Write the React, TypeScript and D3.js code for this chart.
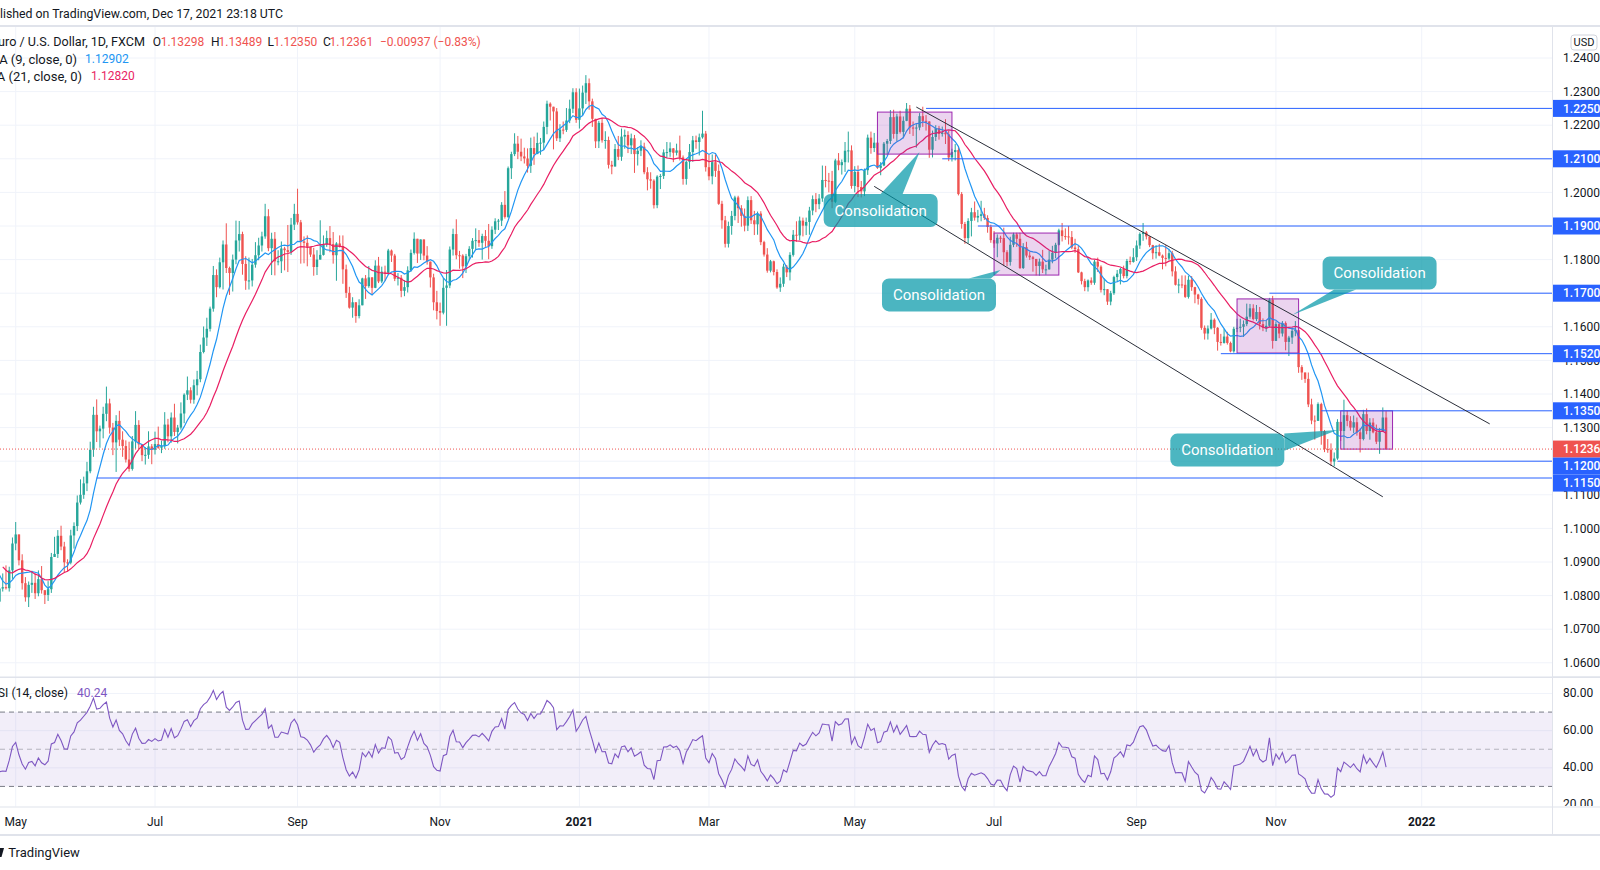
import * as d3 from "d3";

// EUR/USD daily bars (FXCM), price x 10000, one line per month; open = previous close
const firstDay = "2020-03-30";
const lastDay = "2022-02-28";
const noBarDays = ["12-25", "01-01"];

const closes = [
  11033, 11030,
  10963, 10857, 10806, 10794, 10890, 10855, 10936, 10940, 10914, 10985, 10905, 10842, 10876, 10862, 10856, 10822, 10782, 10821, 10825, 10822, 10875, 10955,
  10982, 10905, 10837, 10795, 10832, 10838, 10807, 10849, 10816, 10802, 10819, 10915, 10924, 10978, 10946, 10899, 10898, 10979, 11007, 11077, 11100,
  11134, 11170, 11234, 11338, 11289, 11297, 11341, 11372, 11300, 11256, 11320, 11264, 11245, 11205, 11177, 11259, 11308, 11250, 11218, 11219, 11244, 11234,
  11251, 11240, 11245, 11309, 11274, 11330, 11287, 11300, 11342, 11398, 11411, 11383, 11426, 11444, 11525, 11568, 11594, 11654, 11754, 11718, 11792, 11845, 11775,
  11760, 11800, 11857, 11876, 11787, 11737, 11738, 11785, 11813, 11842, 11869, 11929, 11834, 11862, 11795, 11795, 11833, 11828, 11823, 11904, 11936,
  11911, 11854, 11850, 11838, 11815, 11778, 11800, 11814, 11845, 11864, 11846, 11813, 11848, 11840, 11771, 11701, 11657, 11673, 11632, 11664, 11744, 11721,
  11747, 11716, 11782, 11735, 11764, 11761, 11827, 11812, 11743, 11746, 11707, 11718, 11768, 11820, 11862, 11818, 11860, 11812, 11794, 11747, 11673, 11647,
  11642, 11716, 11723, 11830, 11876, 11813, 11812, 11780, 11810, 11832, 11856, 11858, 11850, 11870, 11856, 11840, 11889, 11914, 11916, 11963, 11927,
  12072, 12114, 12145, 12121, 12107, 12101, 12079, 12132, 12114, 12147, 12148, 12195, 12264, 12255, 12241, 12161, 12187, 12186, 12214, 12249, 12298, 12216,
  12250, 12297, 12325, 12271, 12219, 12152, 12207, 12155, 12156, 12082, 12077, 12129, 12106, 12166, 12171, 12140, 12161, 12114, 12124, 12136,
  12060, 12039, 12035, 11962, 12047, 12049, 12119, 12120, 12131, 12118, 12125, 12104, 12040, 12091, 12120, 12155, 12150, 12164, 12175, 12075,
  12048, 12090, 12064, 11966, 11917, 11847, 11900, 11930, 11985, 11953, 11930, 11901, 11977, 11917, 11905, 11937, 11852, 11815, 11767, 11795, 11763, 11717, 11728,
  11779, 11762, 11814, 11874, 11872, 11916, 11901, 11912, 11946, 11980, 11965, 11982, 12037, 12035, 12034, 11972, 12095, 12081, 12090, 12124, 12125, 12019,
  12061, 12016, 12003, 12066, 12163, 12132, 12148, 12073, 12080, 12145, 12153, 12224, 12174, 12226, 12180, 12213, 12249, 12193, 12192, 12193, 12227,
  12213, 12211, 12127, 12165, 12191, 12174, 12178, 12173, 12104, 12120, 12126, 11995, 11906, 11864, 11915, 11941, 11925, 11930, 11935, 11924, 11897, 11858,
  11848, 11865, 11864, 11822, 11793, 11844, 11875, 11862, 11775, 11837, 11812, 11807, 11802, 11781, 11794, 11771, 11771, 11800, 11820, 11844, 11887, 11870,
  11869, 11867, 11836, 11831, 11762, 11736, 11718, 11738, 11731, 11794, 11779, 11710, 11712, 11675, 11700, 11748, 11758, 11772, 11751, 11796, 11793, 11807,
  11842, 11876, 11881, 11869, 11843, 11819, 11822, 11812, 11805, 11803, 11819, 11765, 11725, 11726, 11725, 11689, 11740, 11718, 11696, 11683, 11597, 11580,
  11595, 11621, 11597, 11555, 11552, 11571, 11552, 11527, 11594, 11597, 11600, 11608, 11630, 11655, 11623, 11644, 11608, 11597, 11603, 11681, 11558,
  11608, 11580, 11611, 11555, 11568, 11588, 11590, 11480, 11464, 11445, 11369, 11321, 11320, 11370, 11289, 11236, 11234, 11199, 11208, 11317, 11290, 11337,
  11320, 11300, 11316, 11286, 11266, 11340, 11290, 11315, 11286, 11258, 11289, 11330, 11236,
];

const highs = [
  11145, 11073,
  11045, 10968, 10867, 10834, 10926, 10892, 10951, 10950, 10955, 10990, 10986, 10917, 10890, 10886, 10879, 10878, 10888, 10838, 10866, 10890, 10886, 10973,
  11019, 10975, 10923, 10855, 10842, 10874, 10866, 10875, 10888, 10812, 10843, 10927, 10975, 10995, 11008, 10960, 10908, 10996, 11018, 11098, 11146,
  11154, 11198, 11258, 11362, 11384, 11306, 11362, 11422, 11386, 11314, 11337, 11350, 11289, 11262, 11258, 11275, 11349, 11322, 11250, 11242, 11289, 11251,
  11288, 11303, 11261, 11346, 11326, 11345, 11371, 11308, 11375, 11402, 11452, 11420, 11443, 11469, 11547, 11601, 11627, 11660, 11781, 11771, 11806, 11857, 11908,
  11779, 11815, 11916, 11915, 11883, 11810, 11806, 11802, 11852, 11865, 11883, 11966, 11950, 11880, 11882, 11828, 11854, 11838, 11903, 11924, 11966,
  12011, 11918, 11869, 11872, 11838, 11835, 11828, 11917, 11872, 11886, 11900, 11882, 11852, 11872, 11872, 11785, 11719, 11688, 11671, 11682, 11746, 11754,
  11781, 11748, 11798, 11808, 11779, 11782, 11832, 11830, 11817, 11760, 11754, 11739, 11780, 11830, 11881, 11854, 11860, 11860, 11840, 11790, 11758, 11707,
  11672, 11745, 11769, 11839, 11892, 11920, 11826, 11816, 11817, 11840, 11864, 11893, 11888, 11877, 11888, 11906, 11899, 11923, 11921, 11971, 12004,
  12077, 12121, 12176, 12168, 12160, 12133, 12131, 12163, 12166, 12178, 12162, 12211, 12273, 12268, 12252, 12251, 12203, 12211, 12251, 12276, 12310, 12310,
  12309, 12318, 12349, 12339, 12279, 12219, 12213, 12222, 12182, 12166, 12094, 12144, 12168, 12190, 12187, 12182, 12175, 12171, 12135, 12155,
  12148, 12075, 12060, 12039, 12051, 12055, 12128, 12150, 12149, 12132, 12145, 12169, 12110, 12095, 12144, 12168, 12169, 12175, 12243, 12183,
  12112, 12113, 12113, 12083, 11975, 11930, 11913, 11945, 11990, 11990, 11962, 11952, 11988, 11989, 11945, 11943, 11944, 11856, 11834, 11799, 11797, 11771, 11747,
  11788, 11784, 11822, 11888, 11914, 11928, 11925, 11925, 11957, 11991, 11998, 11995, 12080, 12079, 12058, 12064, 12100, 12117, 12098, 12150, 12181, 12140,
  12078, 12080, 12034, 12071, 12172, 12181, 12177, 12150, 12090, 12150, 12159, 12245, 12246, 12234, 12243, 12226, 12266, 12260, 12211, 12203, 12236,
  12255, 12230, 12212, 12184, 12200, 12198, 12196, 12218, 12183, 12130, 12144, 12135, 12001, 11912, 11923, 11954, 11973, 11948, 11975, 11954, 11932, 11904,
  11885, 11875, 11871, 11895, 11828, 11868, 11880, 11880, 11880, 11849, 11853, 11823, 11811, 11802, 11803, 11829, 11785, 11827, 11841, 11850, 11892, 11909,
  11893, 11900, 11885, 11862, 11842, 11764, 11743, 11741, 11747, 11799, 11806, 11783, 11744, 11710, 11707, 11752, 11769, 11775, 11782, 11802, 11809, 11834,
  11857, 11881, 11909, 11885, 11869, 11844, 11843, 11847, 11815, 11843, 11830, 11826, 11780, 11743, 11753, 11753, 11752, 11751, 11719, 11698, 11688, 11604,
  11604, 11641, 11625, 11599, 11579, 11594, 11585, 11556, 11600, 11624, 11624, 11619, 11669, 11668, 11667, 11665, 11659, 11625, 11618, 11686, 11692,
  11616, 11613, 11617, 11616, 11573, 11598, 11617, 11599, 11486, 11464, 11464, 11386, 11336, 11375, 11374, 11293, 11266, 11253, 11226, 11325, 11306, 11383,
  11350, 11334, 11336, 11330, 11298, 11353, 11357, 11328, 11328, 11309, 11299, 11360, 11349,
];

const lows = [
  11007, 10925,
  10906, 10835, 10774, 10768, 10790, 10830, 10832, 10912, 10885, 10910, 10879, 10813, 10812, 10838, 10817, 10815, 10756, 10765, 10812, 10818, 10812, 10850,
  10935, 10890, 10818, 10782, 10766, 10808, 10790, 10798, 10806, 10775, 10784, 10808, 10915, 10912, 10935, 10870, 10872, 10893, 10940, 10992, 11071,
  11088, 11111, 11164, 11213, 11257, 11240, 11268, 11319, 11282, 11218, 11168, 11245, 11213, 11196, 11169, 11172, 11237, 11236, 11200, 11190, 11207, 11191,
  11220, 11237, 11224, 11237, 11256, 11255, 11275, 11253, 11294, 11313, 11382, 11372, 11371, 11396, 11435, 11521, 11543, 11586, 11645, 11688, 11714, 11711, 11760,
  11695, 11705, 11786, 11824, 11755, 11710, 11711, 11720, 11776, 11798, 11824, 11862, 11825, 11754, 11753, 11783, 11760, 11768, 11763, 11814, 11888,
  11904, 11788, 11789, 11780, 11808, 11752, 11754, 11803, 11812, 11838, 11822, 11788, 11737, 11836, 11728, 11686, 11654, 11627, 11612, 11625, 11666, 11683,
  11716, 11696, 11715, 11730, 11730, 11736, 11755, 11793, 11736, 11723, 11688, 11691, 11702, 11764, 11815, 11790, 11799, 11798, 11785, 11717, 11649, 11622,
  11603, 11637, 11603, 11715, 11812, 11801, 11773, 11745, 11760, 11798, 11806, 11831, 11838, 11800, 11838, 11801, 11832, 11876, 11888, 11900, 11922,
  11924, 12040, 12108, 12099, 12093, 12086, 12059, 12058, 12082, 12116, 12112, 12126, 12173, 12214, 12128, 12153, 12150, 12173, 12180, 12206, 12236, 12207,
  12190, 12230, 12263, 12246, 12195, 12132, 12132, 12148, 12130, 12071, 12054, 12080, 12096, 12094, 12130, 12117, 12114, 12058, 12080, 12108,
  12054, 12006, 12011, 11952, 11953, 12010, 12040, 12102, 12106, 12090, 12110, 12095, 12023, 12023, 12070, 12091, 12130, 12110, 12160, 12062,
  12036, 12024, 12046, 11963, 11892, 11836, 11836, 11874, 11917, 11909, 11898, 11884, 11885, 11906, 11873, 11874, 11843, 11809, 11761, 11762, 11753, 11713, 11704,
  11719, 11748, 11738, 11809, 11853, 11858, 11869, 11873, 11874, 11932, 11941, 11950, 11972, 12015, 12000, 11953, 11968, 12066, 12053, 12061, 12089, 12011,
  12000, 11986, 11985, 11989, 12052, 12115, 12120, 12070, 12051, 12078, 12110, 12144, 12160, 12152, 12175, 12161, 12212, 12174, 12168, 12133, 12185,
  12195, 12184, 12103, 12104, 12153, 12157, 12166, 12144, 12093, 12092, 12095, 11991, 11892, 11847, 11849, 11869, 11916, 11911, 11914, 11918, 11880, 11850,
  11835, 11807, 11850, 11782, 11780, 11782, 11837, 11838, 11772, 11772, 11806, 11799, 11764, 11753, 11752, 11760, 11755, 11770, 11789, 11804, 11842, 11854,
  11859, 11845, 11831, 11820, 11760, 11726, 11706, 11705, 11725, 11725, 11763, 11702, 11694, 11665, 11664, 11695, 11733, 11726, 11744, 11744, 11785, 11791,
  11796, 11832, 11856, 11860, 11837, 11801, 11803, 11810, 11771, 11780, 11798, 11750, 11723, 11700, 11715, 11686, 11684, 11707, 11670, 11666, 11591, 11562,
  11562, 11592, 11578, 11529, 11544, 11550, 11547, 11524, 11523, 11584, 11584, 11570, 11602, 11624, 11619, 11617, 11592, 11587, 11585, 11600, 11535,
  11561, 11566, 11571, 11530, 11513, 11549, 11572, 11463, 11442, 11433, 11361, 11310, 11264, 11320, 11249, 11227, 11225, 11186, 11185, 11204, 11260, 11235,
  11304, 11291, 11284, 11276, 11226, 11262, 11280, 11264, 11283, 11251, 11222, 11292, 11235,
];

const tickDates = [
  "2020-05-01", "2020-07-01", "2020-09-01", "2020-11-02", "2021-01-04", "2021-03-01",
  "2021-05-03", "2021-07-01", "2021-09-01", "2021-11-01", "2022-01-03",
];
const tickLabels = ["May", "Jul", "Sep", "Nov", "2021", "Mar", "May", "Jul", "Sep", "Nov", "2022"];
const yearLabels = ["2021", "2022"];

const priceTicks = [1.24, 1.23, 1.22, 1.21, 1.2, 1.19, 1.18, 1.17, 1.16, 1.15, 1.14, 1.13, 1.12, 1.11, 1.1, 1.09, 1.08, 1.07, 1.06];
const rsiTicks = [80, 60, 40, 20];
const rsiGrid = [80, 60, 40];

const lastPrice = 1.12361;
const levels = [
  { price: 1.225, from: "2021-06-02" },
  { price: 1.21, from: "2021-06-09" },
  { price: 1.19, from: "2021-06-24" },
  { price: 1.17, from: "2021-10-28" },
  { price: 1.152, from: "2021-10-07" },
  { price: 1.135, from: "2021-11-19" },
  { price: 1.12, from: "2021-11-26" },
  { price: 1.115, from: "2020-06-05" },
];

const zones = [
  { from: "2021-05-12", to: "2021-06-14", top: 1.2239, bottom: 1.2114 },
  { from: "2021-07-01", to: "2021-07-29", top: 1.1879, bottom: 1.1754 },
  { from: "2021-10-14", to: "2021-11-10", top: 1.1683, bottom: 1.1522 },
  { from: "2021-11-29", to: "2021-12-21", top: 1.135, bottom: 1.1236 },
];

const trendLines = [
  { from: "2021-05-28", p1: 1.2254, to: "2022-02-01", p2: 1.1311 },
  { from: "2021-05-11", p1: 1.2018, to: "2021-12-16", p2: 1.1094 },
];

const callouts = [
  { text: "Consolidation", at: "2021-05-13", price: 1.1946, tipAt: "2021-05-31", tipPrice: 1.212 },
  { text: "Consolidation", at: "2021-06-08", price: 1.1695, tipAt: "2021-07-05", tipPrice: 1.1769 },
  { text: "Consolidation", at: "2021-12-15", price: 1.176, tipAt: "2021-11-08", tipPrice: 1.1635 },
  { text: "Consolidation", at: "2021-10-11", price: 1.1233, tipAt: "2021-11-26", tipPrice: 1.1293 },
];

const headerText = "Published on TradingView.com, Dec 17, 2021 23:18 UTC";
const symbolTitle = "Euro / U.S. Dollar, 1D, FXCM";
const ohlcNames = ["O", "H", "L", "C"];
const ohlcValues = ["1.13298", "1.13489", "1.12350", "1.12361"];
const changeText = "\u22120.00937 (\u22120.83%)";
const maTitles = ["MA (9, close, 0)", "MA (21, close, 0)"];
const maValues = ["1.12902", "1.12820"];
const rsiTitle = "RSI (14, close)";
const rsiValue = "40.24";

const UP = "#26a69a";
const DOWN = "#ef5350";
const MA9 = "#2196f3";
const MA21 = "#e91e63";
const LEVEL = "#2962ff";
const RSI = "#7e57c2";
const GRID = "#f0f3fa";
const BORDER = "#e0e3eb";
const TEXT = "#131722";
const FONT = "Roboto, 'Noto Sans', sans-serif";

function sma(v: number[], n: number) {
  return v.map((_, i) => (i < n - 1 ? null : d3.mean(v.slice(i - n + 1, i + 1))!));
}

function rsiWilder(v: number[], n: number) {
  const out: (number | null)[] = v.map(() => null);
  let ag = 0;
  let al = 0;
  for (let i = 1; i < v.length; i++) {
    const ch = v[i] - v[i - 1];
    const g = Math.max(ch, 0);
    const l = Math.max(-ch, 0);
    if (i <= n) {
      ag += g / n;
      al += l / n;
      if (i < n) continue;
    } else {
      ag = (ag * (n - 1) + g) / n;
      al = (al * (n - 1) + l) / n;
    }
    out[i] = al === 0 ? 100 : 100 - 100 / (1 + ag / al);
  }
  return out;
}

function calloutShape(cx: number, cy: number, tx: number, ty: number) {
  const w = 114, h = 33, r = 7;
  const x0 = cx - w / 2, y0 = cy - h / 2;
  const box = `M${x0 + r},${y0}H${x0 + w - r}A${r},${r} 0 0 1 ${x0 + w},${y0 + r}V${y0 + h - r}A${r},${r} 0 0 1 ${x0 + w - r},${y0 + h}H${x0 + r}A${r},${r} 0 0 1 ${x0},${y0 + h - r}V${y0 + r}A${r},${r} 0 0 1 ${x0 + r},${y0}Z`;
  const dx = tx - cx, dy = ty - cy;
  const tH = dx !== 0 ? w / 2 / Math.abs(dx) : Infinity;
  const tV = dy !== 0 ? h / 2 / Math.abs(dy) : Infinity;
  const half = 11;
  let b1: number[], b2: number[];
  if (tH < tV) {
    const ex = cx + dx * tH, ey = cy + dy * tH;
    b1 = [ex, Math.max(y0, ey - half)];
    b2 = [ex, Math.min(y0 + h, ey + half)];
  } else {
    const ex = cx + dx * tV, ey = cy + dy * tV;
    b1 = [Math.max(x0, ex - half), ey];
    b2 = [Math.min(x0 + w, ex + half), ey];
  }
  const tail = `M${b1[0]},${b1[1]}L${tx},${ty}L${b2[0]},${b2[1]}Z`;
  return { box, tail };
}

export default function App() {
  const W = 1600, H = 870;
  const axisX = 1552;
  const mainTop = 27, mainBottom = 676.5;
  const rsiTop = 677.5, rsiBottom = 806.5;
  const timeBottom = 834;

  // trading days: weekdays without Christmas and New Year
  const days: string[] = [];
  for (let t = Date.parse(firstDay); t <= Date.parse(lastDay); t += 864e5) {
    const d = new Date(t);
    const wd = d.getUTCDay();
    const iso = d.toISOString().slice(0, 10);
    if (wd === 0 || wd === 6 || noBarDays.includes(iso.slice(5))) continue;
    days.push(iso);
  }
  const index = new Map(days.map((d, i) => [d, i]));
  const at = (s: string) => index.get(s)!;

  const x = d3.scaleLinear().domain([at("2020-05-01"), at("2022-01-03")]).range([15.7, 1421.7]);
  const y = d3.scaleLinear().domain([1.06, 1.24]).range([662.8, 58]);
  const yr = d3.scaleLinear().domain([20, 80]).range([805, 693.5]);

  const bars = closes.map((c, i) => {
    const o = i > 0 ? closes[i - 1] : c;
    return {
      i,
      o: o / 1e4,
      c: c / 1e4,
      h: Math.max(highs[i], o, c) / 1e4,
      l: Math.min(lows[i], o, c) / 1e4,
    };
  });
  const cl = bars.map((b) => b.c);
  const ma9 = sma(cl, 9);
  const ma21 = sma(cl, 21);
  const rsi = rsiWilder(cl, 14);

  const priceLine = d3
    .line<number | null>()
    .defined((v) => v != null)
    .x((_, i) => x(i))
    .y((v) => y(v as number));
  const rsiLine = d3
    .line<number | null>()
    .defined((v) => v != null)
    .x((_, i) => x(i))
    .y((v) => yr(v as number));

  // axis label boxes, pushed apart like the price scale does
  const boxes = [
    ...levels.map((l) => ({ price: l.price, color: LEVEL })),
    { price: lastPrice, color: DOWN },
  ]
    .map((b) => ({ ...b, cy: y(b.price) }))
    .sort((a, b) => a.cy - b.cy);
  const boxH = 17;
  let prevBottom = -Infinity;
  const placed = boxes.map((b) => {
    const top = Math.max(b.cy - boxH / 2, prevBottom);
    prevBottom = top + boxH;
    return { ...b, top };
  });
  // regular tick labels fully hidden behind a box are not drawn
  const visibleTicks = priceTicks.filter(
    (p) => !placed.some((b) => y(p) > b.top + 2 && y(p) < b.top + boxH - 2)
  );

  const gridXs = tickDates.map((d) => x(at(d)));

  return (
    <div style={{ position: "absolute", left: 0, top: 0, width: W, height: H, overflow: "hidden", background: "#fff" }}>
      <svg width={W} height={H} fontFamily={FONT} style={{ display: "block" }}>
        <defs>
          <clipPath id="mainClip">
            <rect x={0} y={mainTop} width={axisX} height={mainBottom - mainTop} />
          </clipPath>
          <clipPath id="rsiClip">
            <rect x={0} y={rsiTop} width={axisX} height={rsiBottom - rsiTop} />
          </clipPath>
        </defs>
        <rect width={W} height={H} fill="#fff" />

        {/* header */}
        <text x={283} y={14} dy="0.35em" textAnchor="end" fontSize={12.3} fill={TEXT}>
          {headerText}
        </text>
        <rect x={0} y={25} width={W} height={2} fill={BORDER} />

        {/* grid */}
        {priceTicks.map((p) => (
          <line key={p} x1={0} x2={axisX} y1={y(p)} y2={y(p)} stroke={GRID} strokeWidth={1} />
        ))}
        {gridXs.map((gx, i) => (
          <line key={i} x1={gx} x2={gx} y1={mainTop} y2={rsiBottom} stroke={GRID} strokeWidth={1} />
        ))}

        {/* main pane */}
        <g clipPath="url(#mainClip)">
          {bars.map((b) => {
            const cx = x(b.i);
            if (cx < -5 || cx > axisX) return null;
            const col = b.c >= b.o ? UP : DOWN;
            const yt = y(Math.max(b.o, b.c));
            const yb = y(Math.min(b.o, b.c));
            return (
              <g key={b.i}>
                <line x1={cx} x2={cx} y1={y(b.h)} y2={y(b.l)} stroke={col} strokeWidth={1} />
                <rect x={cx - 1.2} y={yt} width={2.4} height={Math.max(1, yb - yt)} fill={col} />
              </g>
            );
          })}
          <path d={priceLine(ma9) ?? ""} fill="none" stroke={MA9} strokeWidth={1.2} />
          <path d={priceLine(ma21) ?? ""} fill="none" stroke={MA21} strokeWidth={1.2} />

          {zones.map((z, i) => (
            <rect
              key={i}
              x={x(at(z.from))}
              y={y(z.top)}
              width={x(at(z.to)) - x(at(z.from))}
              height={y(z.bottom) - y(z.top)}
              fill="rgba(156,39,176,0.2)"
              stroke="#9c27b0"
              strokeWidth={1}
            />
          ))}

          <line x1={0} x2={axisX} y1={y(lastPrice)} y2={y(lastPrice)} stroke={DOWN} strokeWidth={1} strokeDasharray="1,2" />

          {levels.map((l, i) => (
            <line key={i} x1={x(at(l.from))} x2={axisX} y1={y(l.price)} y2={y(l.price)} stroke={LEVEL} strokeWidth={1} />
          ))}

          {trendLines.map((t, i) => (
            <line key={i} x1={x(at(t.from))} y1={y(t.p1)} x2={x(at(t.to))} y2={y(t.p2)} stroke="#2a2e39" strokeWidth={1} />
          ))}

          {callouts.map((c, i) => {
            const cx = x(at(c.at));
            const cy = y(c.price);
            const s = calloutShape(cx, cy, x(at(c.tipAt)), y(c.tipPrice));
            return (
              <g key={i}>
                <g opacity={0.7}>
                  <path d={s.box} fill="#0097a7" />
                  <path d={s.tail} fill="#0097a7" />
                </g>
                <text x={cx} y={cy} dy="0.35em" textAnchor="middle" fontSize={15} fill="#fff">
                  {c.text}
                </text>
              </g>
            );
          })}
        </g>

        {/* legend */}
        <g fontSize={12} fill={TEXT}>
          <text x={145} y={42} dy="0.35em" textAnchor="end" fontSize={12.6}>{symbolTitle}</text>
          {ohlcNames.map((n, i) => (
            <g key={n}>
              <text x={[152.7, 211, 267.5, 323][i]} y={42} dy="0.35em">{n}</text>
              <text x={[160.7, 218.5, 273.5, 329.5][i]} y={42} dy="0.35em" fill={DOWN}>{ohlcValues[i]}</text>
            </g>
          ))}
          <text x={380} y={42} dy="0.35em" fill={DOWN}>{changeText}</text>
          <text x={77} y={59} dy="0.35em" textAnchor="end" fontSize={13}>{maTitles[0]}</text>
          <text x={85} y={59} dy="0.35em" fill={MA9}>{maValues[0]}</text>
          <text x={82} y={76} dy="0.35em" textAnchor="end" fontSize={13}>{maTitles[1]}</text>
          <text x={91} y={76} dy="0.35em" fill={MA21}>{maValues[1]}</text>
        </g>

        {/* pane separator */}
        <rect x={0} y={mainBottom} width={W} height={1.5} fill={BORDER} />

        {/* RSI pane */}
        {rsiGrid.map((v) => (
          <line key={v} x1={0} x2={axisX} y1={yr(v)} y2={yr(v)} stroke={GRID} strokeWidth={1} />
        ))}
        <rect x={0} y={yr(70)} width={axisX} height={yr(30) - yr(70)} fill="rgba(126,87,194,0.1)" />
        <line x1={0} x2={axisX} y1={yr(70)} y2={yr(70)} stroke="#787b86" strokeDasharray="5,4" />
        <line x1={0} x2={axisX} y1={yr(50)} y2={yr(50)} stroke="#787b86" strokeOpacity={0.5} strokeDasharray="5,4" />
        <line x1={0} x2={axisX} y1={yr(30)} y2={yr(30)} stroke="#787b86" strokeDasharray="5,4" />
        <g clipPath="url(#rsiClip)">
          <path d={rsiLine(rsi) ?? ""} fill="none" stroke={RSI} strokeWidth={1.1} />
        </g>
        <text x={68} y={693} dy="0.35em" textAnchor="end" fontSize={12.2} fill={TEXT}>{rsiTitle}</text>
        <text x={77} y={693} dy="0.35em" fontSize={12} fill={RSI}>{rsiValue}</text>

        <rect x={0} y={rsiBottom} width={W} height={1} fill={BORDER} />

        {/* price scale */}
        <rect x={axisX} y={27} width={1} height={timeBottom - 27} fill={BORDER} />
        <g fontSize={12} fill={TEXT}>
          {visibleTicks.map((p) => (
            <text key={p} x={1563} y={y(p)} dy="0.35em">{p.toFixed(5)}</text>
          ))}
          {rsiTicks.map((v) => (
            <text key={v} x={1563} y={yr(v) - 1} dy="0.35em">{v.toFixed(2)}</text>
          ))}
        </g>
        <rect x={axisX + 1} y={rsiBottom - 0.5} width={W - axisX} height={H - rsiBottom} fill="#fff" />
        <rect x={axisX} y={rsiBottom} width={W - axisX} height={1} fill={BORDER} />
        <rect x={axisX} y={mainBottom} width={W - axisX} height={1.5} fill={BORDER} />
        <rect x={axisX} y={rsiBottom} width={1} height={timeBottom - rsiBottom} fill={BORDER} />

        {placed.map((b, i) => (
          <g key={i}>
            <rect x={axisX + 1} y={b.top} width={W - axisX} height={boxH} fill={b.color} />
            <text x={1563} y={b.top + boxH / 2} dy="0.35em" fontSize={12} fontWeight={500} fill="#fff">
              {b.price.toFixed(5)}
            </text>
          </g>
        ))}

        <rect x={1571} y={35} width={26} height={15} rx={3} fill="#fff" stroke="#d1d4dc" />
        <text x={1584} y={42.5} dy="0.35em" textAnchor="middle" fontSize={11} fill={TEXT}>USD</text>

        {/* time axis */}
        {tickLabels.map((t, i) => (
          <text
            key={i}
            x={gridXs[i]}
            y={821.5}
            dy="0.35em"
            textAnchor="middle"
            fontSize={12}
            fontWeight={yearLabels.includes(t) ? 700 : 400}
            fill={TEXT}
          >
            {t}
          </text>
        ))}
        <rect x={0} y={timeBottom} width={W} height={2} fill={BORDER} />

        {/* footer */}
        <path d="M-5,848L4,848L1.5,857L-5,857Z" fill={TEXT} />
        <text x={8.3} y={852.7} dy="0.35em" fontSize={13} fill={TEXT}>TradingView</text>
      </svg>
    </div>
  );
}
